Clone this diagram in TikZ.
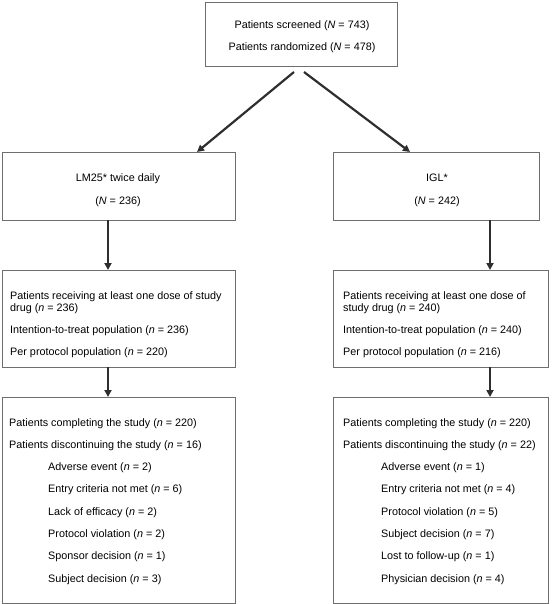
\documentclass[tikz,border=0pt]{standalone}
\usepackage{fontspec}
\setmainfont{Liberation Sans}
\usetikzlibrary{arrows.meta}
\definecolor{boxline}{HTML}{6E6E6E}
\definecolor{arrowcol}{HTML}{2E2E2E}
\tikzset{
  box/.style={draw=boxline, line width=0.9pt, anchor=north west, inner sep=0pt, outer sep=0pt},
  txt/.style={anchor=base west, inner sep=0pt, font=\fontsize{10.8pt}{12.3pt}\selectfont, text=black},
  ctxt/.style={anchor=base, inner sep=0pt, font=\fontsize{10.8pt}{12.3pt}\selectfont, text=black},
  arr/.style={draw=arrowcol, line width=2.2pt, -{Triangle[length=7pt,width=7pt]}}
}
\begin{document}
\begin{tikzpicture}[x=1pt,y=-1pt]
\useasboundingbox (0,0) rectangle (559,604);
% boxes
\node[box, minimum width=192pt, minimum height=64pt] (top) at (205,2) {};
\node[box, minimum width=233pt, minimum height=68pt] (armL) at (2,152) {};
\node[box, minimum width=206pt, minimum height=68pt] (armR) at (333,152) {};
\node[box, minimum width=233pt, minimum height=97pt] (popL) at (2,270) {};
\node[box, minimum width=215pt, minimum height=97pt] (popR) at (333,270) {};
\node[box, minimum width=233pt, minimum height=206pt] (endL) at (2,397) {};
\node[box, minimum width=215pt, minimum height=206pt] (endR) at (333,397) {};
% top texts
\node[ctxt] (t1) at (302,29) {Patients screened (\textit{N} = 743)};
\node[ctxt] (t2) at (302,51) {Patients randomized (\textit{N} = 478)};
% arm texts
\node[ctxt] (aL1) at (118,181) {LM25* twice daily};
\node[ctxt] (aL2) at (118,204) {(\textit{N} = 236)};
\node[ctxt] (aR1) at (437,181) {IGL*};
\node[ctxt] (aR2) at (437,204) {(\textit{N} = 242)};
% population texts left
\node[txt] (pL1) at (10,299) {Patients receiving at least one dose of study};
\node[txt] (pL2) at (10,311.5) {drug (\textit{n} = 236)};
\node[txt] (pL3) at (10,333) {Intention-to-treat population (\textit{n} = 236)};
\node[txt] (pL4) at (10,355) {Per protocol population (\textit{n} = 220)};
% population texts right
\node[txt] (pR1) at (343,299) {Patients receiving at least one dose of};
\node[txt] (pR2) at (343,311.5) {study drug (\textit{n} = 240)};
\node[txt] (pR3) at (343,333) {Intention-to-treat population (\textit{n} = 240)};
\node[txt] (pR4) at (343,355) {Per protocol population (\textit{n} = 216)};
% end texts left
\node[txt] (eL1) at (9,426) {Patients completing the study (\textit{n} = 220)};
\node[txt] (eL2) at (9,448.3) {Patients discontinuing the study (\textit{n} = 16)};
\node[txt] (eL3) at (48,470.6) {Adverse event (\textit{n} = 2)};
\node[txt] (eL4) at (48,492.9) {Entry criteria not met (\textit{n} = 6)};
\node[txt] (eL5) at (48,515.2) {Lack of efficacy (\textit{n} = 2)};
\node[txt] (eL6) at (48,537.5) {Protocol violation (\textit{n} = 2)};
\node[txt] (eL7) at (48,559.8) {Sponsor decision (\textit{n} = 1)};
\node[txt] (eL8) at (48,582.1) {Subject decision (\textit{n} = 3)};
% end texts right
\node[txt] (eR1) at (343,426) {Patients completing the study (\textit{n} = 220)};
\node[txt] (eR2) at (343,448.3) {Patients discontinuing the study (\textit{n} = 22)};
\node[txt] (eR3) at (381,470.6) {Adverse event (\textit{n} = 1)};
\node[txt] (eR4) at (381,492.9) {Entry criteria not met (\textit{n} = 4)};
\node[txt] (eR5) at (381,515.2) {Protocol violation (\textit{n} = 5)};
\node[txt] (eR6) at (381,537.5) {Subject decision (\textit{n} = 7)};
\node[txt] (eR7) at (381,559.8) {Lost to follow-up (\textit{n} = 1)};
\node[txt] (eR8) at (381,582.1) {Physician decision (\textit{n} = 4)};
% connector end points
\coordinate (sL) at (294,72);
\coordinate (sR) at (304,72);
\coordinate (tL) at (197,152);
\coordinate (tR) at (410,152);
\draw[arr] (sL) -- (tL);
\draw[arr] (sR) -- (tR);
\draw[arr] (armL.south -| 108,0) -- (popL.north -| 108,0);
\draw[arr] (armR.south -| 490,0) -- (popR.north -| 490,0);
\draw[arr] (popL.south -| 108,0) -- (endL.north -| 108,0);
\draw[arr] (popR.south -| 490,0) -- (endR.north -| 490,0);
\end{tikzpicture}
\end{document}
